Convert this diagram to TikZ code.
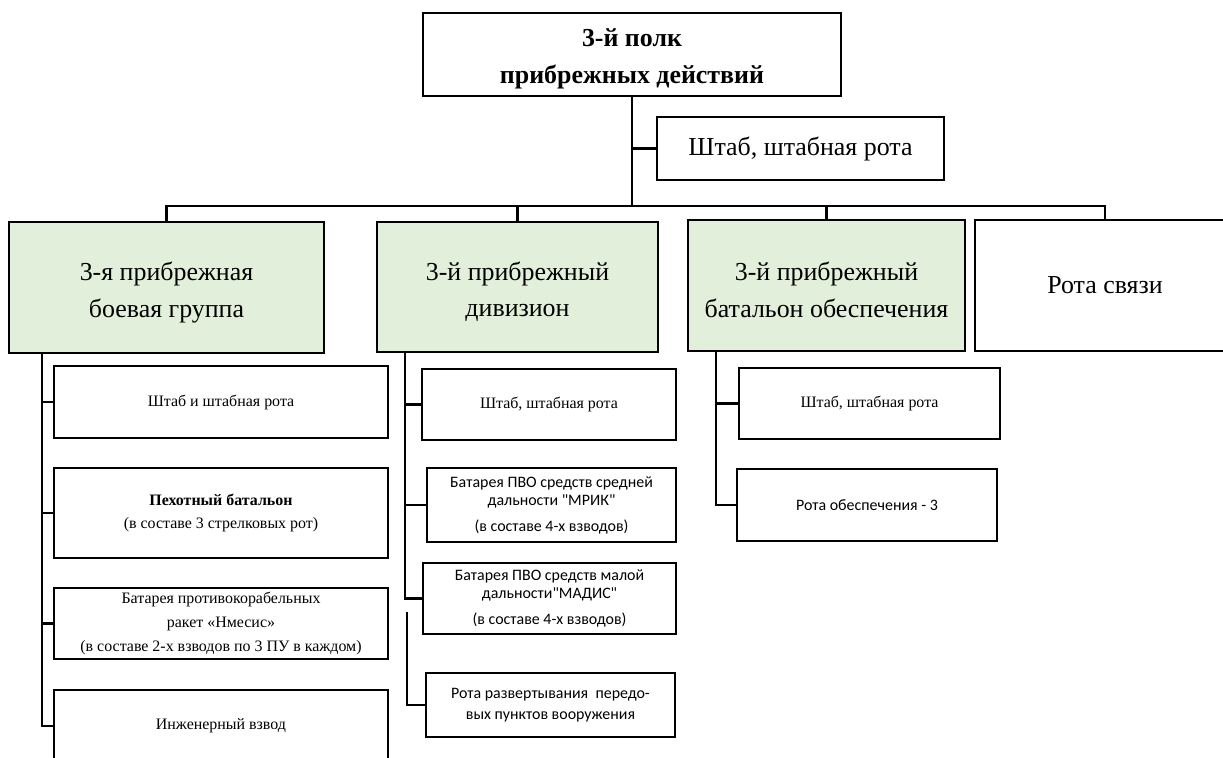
\documentclass[tikz,border=0pt]{standalone}
\usepackage{fontspec}
\setmainfont{Liberation Serif}
\newfontfamily\calib{Carlito}
\definecolor{grn}{RGB}{226,239,218}
\newcommand{\dnstrut}[1]{\rule{0pt}{#1bp}}
\begin{document}
\begin{tikzpicture}[x=1bp,y=-1bp,
  box/.style={draw=black, line width=2.2bp, fill=white, inner sep=2bp, align=center, font=\fontsize{16}{24}\selectfont},
  big/.style={box, font=\fontsize{26}{37}\selectfont},
  grnbox/.style={big, fill=grn},
  sbox/.style={box, font=\calib\fontsize{16}{18}\selectfont},
  conn/.style={line width=2.2bp}]
\useasboundingbox (0,0) rectangle (1223,758);
\clip (0,0) rectangle (1223,758);
% top level
\node[big, font=\bfseries\fontsize{26}{37}\selectfont, minimum width=418bp, minimum height=83bp] (top) at (632,54.5) {\dnstrut{26}3-й полк\\прибрежных действий};
\node[big, minimum width=287bp, minimum height=63bp] (hq) at (800.5,148.5) {Штаб, штабная рота};
% second level
\node[grnbox, minimum width=315bp, minimum height=131bp] (g1) at (166.5,287.5) {\dnstrut{28}3-я прибрежная\\боевая группа};
\node[grnbox, minimum width=281bp, minimum height=130bp] (g2) at (517.5,287) {\dnstrut{28}3-й прибрежный\\дивизион};
\node[grnbox, minimum width=277bp, minimum height=131bp] (g3) at (826.5,285.5) {\dnstrut{28}3-й прибрежный\\батальон обеспечения};
\node[big, minimum width=260bp, minimum height=131bp] (rs) at (1105,285.5) {Рота связи};
% left column
\node[box, minimum width=334bp, minimum height=72bp] (a) at (221,402) {Штаб и штабная рота};
\node[box, minimum width=334bp, minimum height=90bp] (b) at (221,513) {\textbf{Пехотный батальон}\\(в составе 3 стрелковых рот)};
\node[box, minimum width=334bp, minimum height=71bp] (c) at (221,623.5) {Батарея противокорабельных\\ракет «Нмесис»\\(в составе 2-х взводов по 3 ПУ в каждом)};
\node[box, minimum width=334bp, minimum height=72bp] (d) at (221,726) {Инженерный взвод};
% middle column
\node[box, minimum width=254bp, minimum height=71bp] (m1) at (549,404.5) {Штаб, штабная рота};
\node[sbox, minimum width=249bp, minimum height=74bp] (m2) at (551.5,505) {Батарея ПВО средств средней\\дальности "МРИК"\\[8bp](в составе 4-х взводов)};
\node[sbox, minimum width=253bp, minimum height=71bp] (m3) at (549.5,598.5) {Батарея ПВО средств малой\\дальности"МАДИС"\\[8bp](в составе 4-х взводов)};
\node[sbox, minimum width=249bp, minimum height=64bp] (m4) at (550.5,705) {Рота развертывания\ \ передо-\\[3bp]вых пунктов вооружения};
% right column
\node[box, minimum width=261bp, minimum height=71bp] (r1) at (869.5,403.5) {Штаб, штабная рота};
\node[sbox, minimum width=260bp, minimum height=72bp] (r2) at (867,505) {Рота обеспечения - 3};
% connectors
\coordinate (bus) at (0,206);
\coordinate (lt) at (42,353);
\coordinate (mt) at (405,352);
\coordinate (mt2) at (407,612);
\coordinate (rt) at (716,351);
\draw[conn] (top.south) -- (top.south |- bus);
\draw[conn] (hq.west) -- (hq.west -| top.south);
\draw[conn] (g1.north) -- (g1.north |- bus) -| (rs.north);
\draw[conn] (g2.north) -- (g2.north |- bus);
\draw[conn] (g3.north) -- (g3.north |- bus);
\draw[conn] (lt) |- (d.west);
\draw[conn] (a.west) -- (a.west -| lt);
\draw[conn] (b.west) -- (b.west -| lt);
\draw[conn] (c.west) -- (c.west -| lt);
\draw[conn] (mt) |- (m3.west);
\draw[conn] (m1.west) -- (m1.west -| mt);
\draw[conn] (m2.west) -- (m2.west -| mt);
\draw[conn] (mt2) |- (m4.west);
\draw[conn] (rt) |- (r2.west);
\draw[conn] (r1.west) -- (r1.west -| rt);
\end{tikzpicture}
\end{document}
